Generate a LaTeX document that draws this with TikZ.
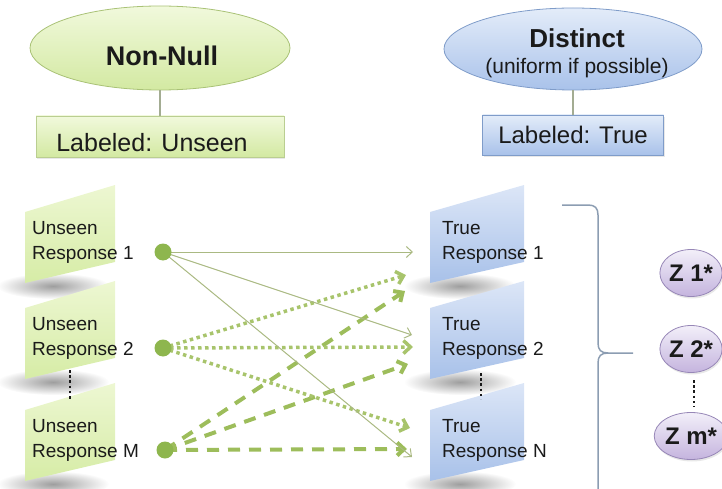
\documentclass[tikz,border=0pt]{standalone}
\usepackage{fontspec}
\setmainfont{Liberation Sans}
\usetikzlibrary{shapes.geometric, arrows.meta, shadows, fadings}

\definecolor{inkc}{HTML}{1A1A1A}
\definecolor{gtop}{HTML}{F1F9DC}
\definecolor{gbot}{HTML}{D3E9A2}
\definecolor{gline}{HTML}{A9C276}
\definecolor{btop}{HTML}{E3ECF9}
\definecolor{bbot}{HTML}{A9C2EA}
\definecolor{bline}{HTML}{7F9CC9}
\definecolor{ptop}{HTML}{F3EFF9}
\definecolor{pbot}{HTML}{C4B4DE}
\definecolor{pline}{HTML}{9787B7}
\definecolor{stemc}{HTML}{A3AC92}
\definecolor{dotgreen}{HTML}{8EB64E}
\definecolor{thingreen}{HTML}{AAB982}
\definecolor{dotline}{HTML}{A8C46C}
\definecolor{dashline}{HTML}{9DBD5B}
\definecolor{bracec}{HTML}{8C9DB2}
\definecolor{cgtop}{HTML}{EDF7D2}
\definecolor{cgbot}{HTML}{D6ECA6}
\definecolor{cbtop}{HTML}{DCE6F7}
\definecolor{cbbot}{HTML}{A8C1E9}

\tikzfading[name=softspot, inner color=transparent!0, outer color=transparent!100]

\tikzset{
  greenoval/.style={ellipse, draw=gline, line width=0.8pt, top color=gtop, bottom color=gbot,
    minimum width=260pt, minimum height=84pt, inner sep=0pt},
  blueoval/.style={ellipse, draw=bline, line width=0.8pt, top color=btop, bottom color=bbot,
    minimum width=258pt, minimum height=82pt, inner sep=0pt},
  greenbox/.style={rectangle, draw=gline!80, line width=0.8pt, top color=gtop, bottom color=gbot,
    minimum width=248pt, minimum height=41pt, inner sep=0pt,
    drop shadow={opacity=0.18, shadow xshift=1pt, shadow yshift=-2pt}},
  bluebox/.style={rectangle, draw=bline, line width=0.8pt, top color=btop, bottom color=bbot,
    minimum width=181pt, minimum height=40pt, inner sep=0pt, text=inkc,
    font=\fontsize{24}{28}\selectfont,
    drop shadow={opacity=0.18, shadow xshift=1pt, shadow yshift=-2pt}},
  zoval/.style={ellipse, draw=pline, line width=0.8pt, top color=ptop, bottom color=pbot,
    minimum width=62pt, minimum height=47pt, inner sep=0pt, text=inkc,
    font=\fontsize{24}{28}\selectfont\bfseries,
    drop shadow={opacity=0.18, shadow xshift=1pt, shadow yshift=-2pt}},
  headtxt/.style={inner sep=0pt, text=inkc, font=\fontsize{27}{30}\selectfont\bfseries},
  subtxt/.style={inner sep=0pt, text=inkc, font=\fontsize{21}{24}\selectfont},
  labtxt/.style={inner sep=0pt, text=inkc, font=\fontsize{25}{28}\selectfont},
  cardtxt/.style={inner sep=0pt, text=inkc, font=\fontsize{19}{22}\selectfont, anchor=base west},
  stem/.style={draw=stemc, line width=1.2pt},
  thinarrow/.style={draw=thingreen, line width=1pt,
    -{Straight Barb[length=6pt, width=11pt]}},
  dotarrow/.style={draw=dotline, line width=3.5pt, dash pattern=on 3.5pt off 3.5pt,
    -{Straight Barb[length=7pt, width=13pt]}},
  dasharrow/.style={draw=dashline, line width=4pt, dash pattern=on 12pt off 9pt,
    -{Straight Barb[length=7pt, width=13pt]}},
  vdots/.style={draw=inkc, line width=2.6pt, dash pattern=on 2.6pt off 2.6pt},
  bracestroke/.style={draw=bracec, line width=1.5pt},
  % a tilted response card with its soft shadow
  pics/ucard/.style 2 args={code={
    \fill[black!38, path fading=softspot] (28,74) ellipse [x radius=56, y radius=13];
    \shade[top color=cgtop, bottom color=cgbot] (0,0) -- (90,-27) -- (90,50) -- (0,71) -- cycle;
    \node[cardtxt] (-a) at (7,22) {#1};
    \node[cardtxt] (-b) at (7,47) {#2};
  }},
  pics/tcard/.style 2 args={code={
    \fill[black!38, path fading=softspot] (30,74) ellipse [x radius=56, y radius=13];
    \shade[top color=cbtop, bottom color=cbbot] (0,0) -- (94,-27) -- (94,50) -- (0,71) -- cycle;
    \node[cardtxt] (-a) at (12,22) {#1};
    \node[cardtxt] (-b) at (12,47) {#2};
  }},
}

\begin{document}
\begin{tikzpicture}[x=1pt, y=-1pt]
\useasboundingbox (0,0) rectangle (722,489);

% top left: Non-Null and its label
\node[greenoval] (nn) at (160,48) {};
\node[headtxt] (nnt) at (162,56) {Non-Null};
\node[greenbox] (lu) at (160,136.5) {};
\node[labtxt] (lut) at (152,143) {Labeled: Unseen};
\draw[stem] (nn) -- (lu);

% top right: Distinct and its label
\node[blueoval] (di) at (573,49) {};
\node[headtxt, font=\fontsize{26}{30}\selectfont\bfseries] (dit) at (577,38) {Distinct};
\node[subtxt] (dis) at (577,68) {(uniform if possible)};
\node[bluebox] (lt) at (573,135) {Labeled: True};
\draw[stem] (di) -- (lt);

% response cards
\pic (u1) at (25,212) {ucard={Unseen}{Response 1}};
\pic (u2) at (25,308) {ucard={Unseen}{Response 2}};
\pic (um) at (25,410) {ucard={Unseen}{Response M}};
\pic (t1) at (430,212) {tcard={True}{Response 1}};
\pic (t2) at (430,308) {tcard={True}{Response 2}};
\pic (tn) at (430,410) {tcard={True}{Response N}};

\draw[vdots] (70,370) -- (70,399);
\draw[vdots] (481,373) -- (481,399);

% connector end points
\coordinate (d1) at (163,252);
\coordinate (d2) at (163,348);
\coordinate (dm) at (165,450);
\coordinate (e1s) at (413,252);
\coordinate (e2s) at (412,335);
\coordinate (ens) at (412,457);
\coordinate (e1d) at (406,275);
\coordinate (e2d) at (413,347);
\coordinate (end) at (410,428);
\coordinate (e1k) at (405,291);
\coordinate (e2k) at (408,364);
\coordinate (enk) at (407,449);

\draw[dasharrow] (dm) -- (e1k);
\draw[dasharrow] (dm) -- (e2k);
\draw[dasharrow] (dm) -- (enk);
\draw[dotarrow] (d2) -- (e1d);
\draw[dotarrow] (d2) -- (e2d);
\draw[dotarrow] (d2) -- (end);
\draw[thinarrow] (d1) -- (e1s);
\draw[thinarrow] (d1) -- (e2s);
\draw[thinarrow] (d1) -- (ens);

\fill[dotgreen] (d1) circle [radius=8.5pt];
\fill[dotgreen] (d2) circle [radius=8.5pt];
\fill[dotgreen] (dm) circle [radius=8.5pt];

% brace grouping the true responses
\draw[bracestroke] (562,205) -- (588,205)
  .. controls (595,205) and (598,208) .. (598,215) -- (598,343)
  .. controls (598,350) and (601,353) .. (608,353) -- (633,353);
\draw[bracestroke] (608,353) .. controls (601,353) and (598,356) .. (598,363) -- (598,489);

% latent variables
\node[zoval] (z1) at (691,273) {Z 1*};
\node[zoval] (z2) at (691,349) {Z 2*};
\node[zoval] (zm) at (691,436) {Z m*};
\draw[vdots] (694,380) -- (694,407);
\end{tikzpicture}
\end{document}
